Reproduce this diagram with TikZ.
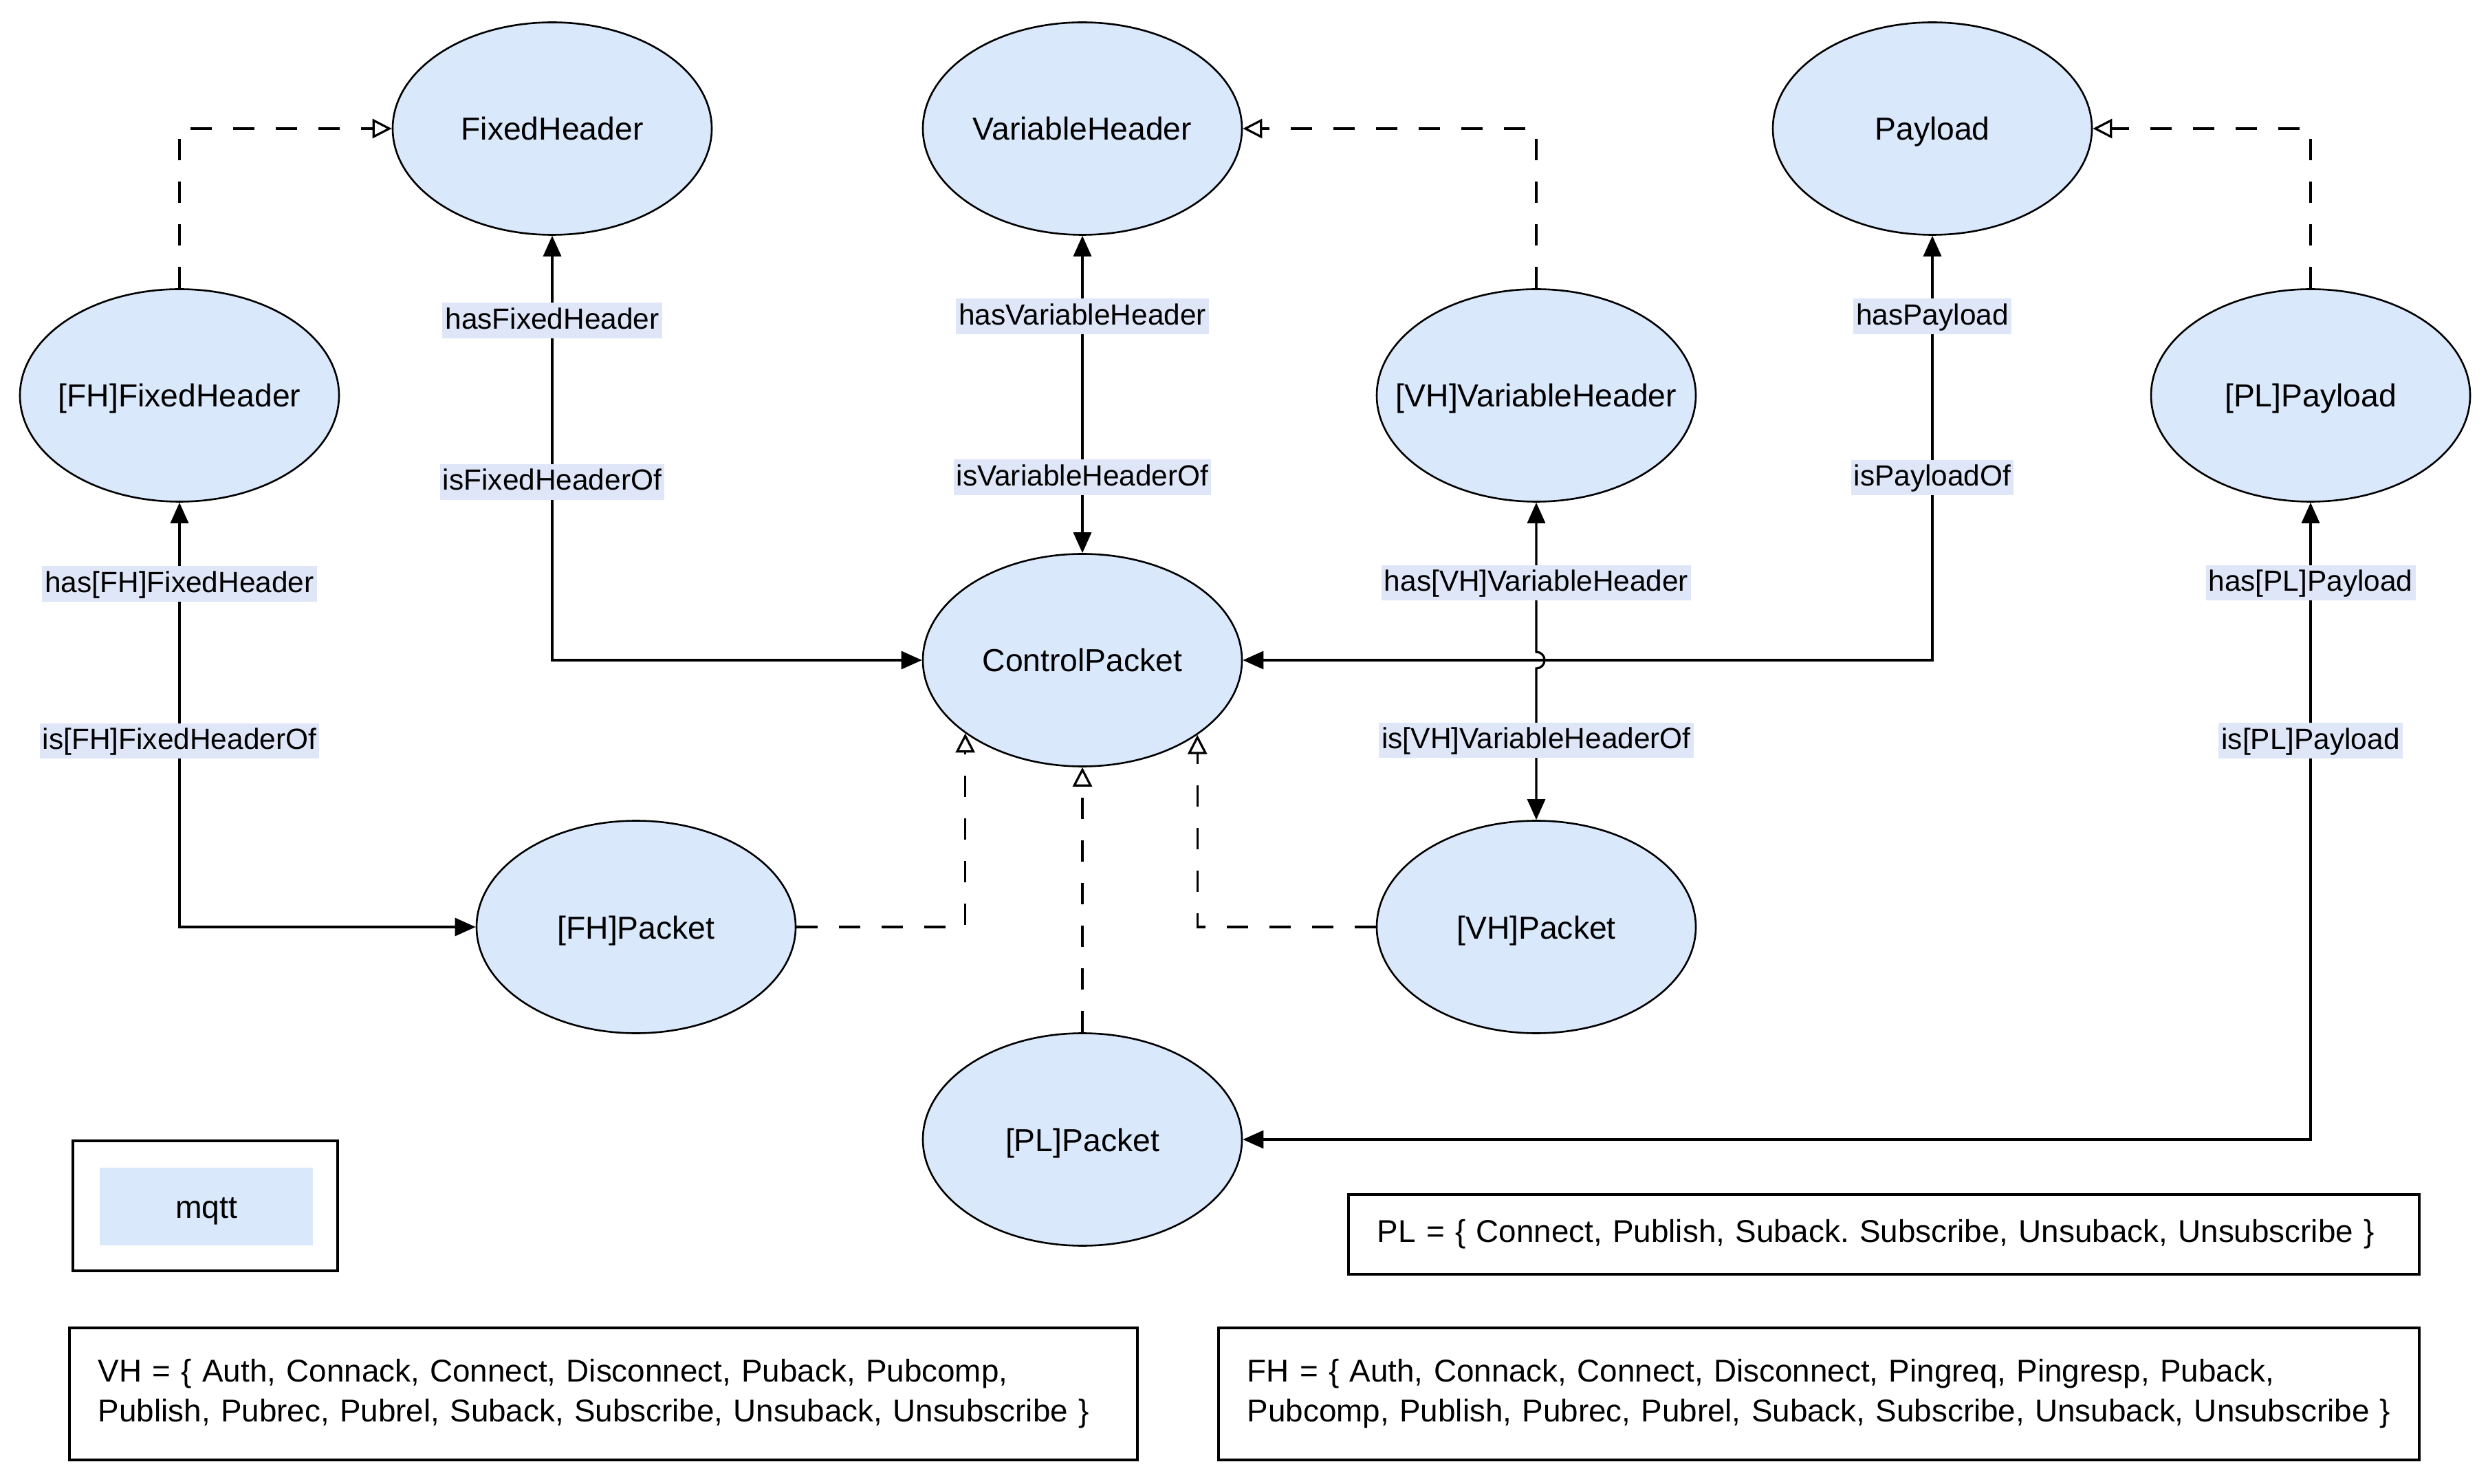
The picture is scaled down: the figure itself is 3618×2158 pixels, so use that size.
\documentclass[tikz,border=0pt]{standalone}
\usepackage{fontspec}
\setmainfont{Liberation Sans}
\usetikzlibrary{arrows.meta,shapes.geometric}
\definecolor{nodefill}{HTML}{DAE8FC}
\definecolor{lblfill}{HTML}{DEE6F8}
\frenchspacing
\newcommand\entlabel[1]{\makebox[0pt]{#1}}
\begin{document}
\begin{tikzpicture}[x=0.25pt,y=-0.25pt,
  ent/.style={ellipse, draw, line width=0.65pt, fill=nodefill, minimum width=116pt, minimum height=77.25pt, inner sep=0pt, text height=10.9pt, text depth=2.4pt, font=\fontsize{11.57}{14}\selectfont},
  rel/.style={draw, line width=0.8pt, {Triangle[length=7.5pt,width=6.5pt]}-{Triangle[length=7.5pt,width=6.5pt]}},
  subedge/.style={draw, line width=0.8pt, dash pattern=on 7.75pt off 7.75pt, -{Triangle[open,length=7pt,width=7pt,fill=white]}},
  lbl/.style={fill=lblfill, inner xsep=1pt, inner ysep=1.2pt, font=\fontsize{10.6}{12}\selectfont, text height=8.3pt, text depth=2.2pt},
  setbox/.style={draw, line width=0.95pt, anchor=north west, inner xsep=10.5pt, inner ysep=0pt, align=left, font=\fontsize{11.45}{14.4}\selectfont}
]
\useasboundingbox (0,0) rectangle (3618,2158);

% entities
\node[ent] (FH) at (803,187) {\entlabel{FixedHeader}};
\node[ent] (VH) at (1574,187) {\entlabel{VariableHeader}};
\node[ent] (PL) at (2810,187) {\entlabel{Payload}};
\node[ent] (FHFH) at (261,575) {\entlabel{[FH]FixedHeader}};
\node[ent] (VHVH) at (2234,575) {\entlabel{[VH]VariableHeader}};
\node[ent] (PLPL) at (3360,575) {\entlabel{[PL]Payload}};
\node[ent] (CP) at (1574,960) {\entlabel{ControlPacket}};
\node[ent] (FHP) at (925,1348) {\entlabel{[FH]Packet}};
\node[ent] (VHP) at (2234,1348) {\entlabel{[VH]Packet}};
\node[ent] (PLP) at (1574,1657) {\entlabel{[PL]Packet}};

% legend
\node[draw, line width=0.95pt, minimum width=96.25pt, minimum height=47.25pt, inner sep=0pt] (legend) at (298.5,1753.5) {};
\node[fill=nodefill, minimum width=77.5pt, minimum height=28.25pt, inner sep=0pt, text height=10.9pt, text depth=2.4pt, font=\fontsize{11.57}{14}\selectfont] (mqtt) at (300,1754.5) {mqtt};

% set boxes
\node[setbox, minimum height=29pt, text width=368.25pt] (plset) at (1959,1735) {\mbox{PL = \{ Connect, Publish, Suback. Subscribe, Unsuback, Unsubscribe \}}};
\node[setbox, minimum height=48pt, text width=367.25pt] (vhset) at (99,1929) {\mbox{VH = \{ Auth, Connack, Connect, Disconnect, Puback, Pubcomp,}\\\mbox{Publish, Pubrec, Pubrel, Suback, Subscribe, Unsuback, Unsubscribe \}}};
\node[setbox, minimum height=48pt, text width=415.5pt] (fhset) at (1770,1929) {\mbox{FH = \{ Auth, Connack, Connect, Disconnect, Pingreq, Pingresp, Puback,}\\\mbox{Pubcomp, Publish, Pubrec, Pubrel, Suback, Subscribe, Unsuback, Unsubscribe \}}};

% subclass (dashed) connectors
\draw[subedge] (FHFH.north) |- (FH.west);
\draw[subedge] (VHVH.north) |- (VH.east);
\draw[subedge] (PLPL.north) |- (PL.east);
\draw[subedge] (FHP.east) -| (CP.212.6);
\draw[subedge] (VHP.west) -| (CP.327.4);
\draw[subedge] (PLP.north) -- (CP.south);

% relations
\draw[rel] (FH.south) |- node[lbl,pos=0.1]{hasFixedHeader} node[lbl,pos=0.29]{isFixedHeaderOf} (CP.west);
\draw[rel] (VH.south) -- node[lbl,pos=0.254]{hasVariableHeader} node[lbl,pos=0.761]{isVariableHeaderOf} (CP.north);
\draw[rel] (PL.south) |- node[lbl,pos=0.095]{hasPayload} node[lbl,pos=0.285]{isPayloadOf} (CP.east);
\draw[rel] (FHFH.south) |- node[lbl,pos=0.096]{has[FH]FixedHeader} node[lbl,pos=0.281]{is[FH]FixedHeaderOf} (FHP.west);
\coordinate (hopA) at (2234,948);
\draw[rel] (VHVH.south) -- node[lbl,pos=0.537]{has[VH]VariableHeader} (hopA) arc[start angle=-90,end angle=90,radius=12] -- node[lbl,pos=0.475]{is[VH]VariableHeaderOf} (VHP.north);
\draw[rel] (PLPL.south) |- node[lbl,pos=0.063]{has[PL]Payload} node[lbl,pos=0.187]{is[PL]Payload} (PLP.east);
\end{tikzpicture}
\end{document}
